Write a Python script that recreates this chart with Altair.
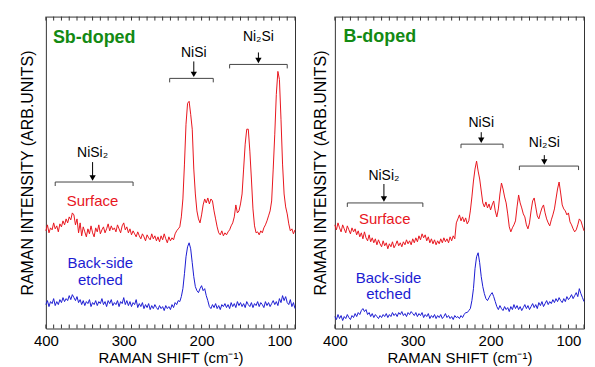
import altair as alt
import pandas as pd

# ---- data (intensity in arbitrary units, sampled every 2 cm^-1 from 400 down to 80) ----
sb_surface = [
    98, 104, 96, 101, 99, 106, 100, 103, 97, 105,
    102, 108, 104, 110, 106, 112, 109, 116, 114, 104,
    110, 96, 106, 93, 102, 97, 92, 100, 95, 103,
    96, 92, 101, 97, 104, 95, 99, 102, 96, 100,
    105, 98, 103, 99, 101, 97, 104, 100, 96, 103,
    106, 99, 102, 96, 100, 94, 98, 95, 92, 97,
    93, 90, 95, 92, 88, 94, 91, 89, 95, 90,
    93, 88, 92, 87, 93, 89, 95, 90, 86, 92,
    88, 91, 89, 95, 98, 100, 102, 112, 130, 165,
    205, 226, 228, 215, 200, 160, 135, 118, 110, 106,
    114, 124, 130, 126, 131, 125, 130, 128, 118, 110,
    102, 96, 94, 98, 93, 96, 94, 97, 99, 103,
    106, 112, 124, 116, 118, 125, 135, 160, 185, 200,
    200, 178, 150, 120, 103, 96, 97, 94, 98, 96,
    101, 104, 108, 113, 118, 128, 160, 195, 235, 258,
    250, 210, 165, 135, 122, 115, 105, 98, 100, 95,
    99,
]
sb_back = [
    24, 28, 22, 27, 25, 30, 23, 27, 24, 29,
    26, 31, 27, 30, 28, 33, 29, 34, 31, 28,
    32, 26, 29, 24, 28, 23, 27, 25, 29, 22,
    26, 24, 28, 23, 27, 25, 30, 24, 27, 22,
    28, 25, 29, 23, 26, 24, 28, 22, 27, 25,
    31, 24, 28, 23, 27, 22, 26, 24, 29, 21,
    25, 22, 26, 20, 24, 21, 25, 19, 23, 20,
    24, 21, 19, 23, 20, 22, 18, 23, 20, 22,
    19, 24, 21, 26, 24, 28, 27, 32, 40, 55,
    72, 82, 86, 80, 66, 52, 42, 38, 36, 40,
    43, 38, 40, 33, 28, 22, 20, 24, 21, 25,
    20, 23, 19, 24, 22, 25, 21, 24, 20, 26,
    22, 25, 21, 27, 23, 26, 22, 25, 21, 27,
    24, 22, 26, 21, 25, 23, 27, 22, 26, 24,
    21, 27, 23, 26, 22, 25, 28, 24, 27, 23,
    30, 26, 33, 28, 32, 26, 24, 29, 22, 26,
    20,
]
b_surface = [
    104, 99, 106, 101, 97, 104, 100, 96, 103, 99,
    95, 101, 97, 100, 94, 98, 92, 96, 90, 97,
    91, 88, 94, 87, 91, 86, 90, 84, 89, 85,
    82, 88, 83, 86, 80, 85, 82, 87, 81, 84,
    88, 83, 86, 82, 87, 84, 89, 85, 88, 84,
    90, 86, 91, 87, 93, 89, 95, 91, 94, 88,
    92, 86, 90, 85, 89, 84, 88, 85, 90, 86,
    91, 87, 90, 86, 92, 88, 93, 90, 106, 110,
    114, 108, 112, 107, 111, 105, 108, 118, 132, 148,
    160, 168, 158, 150, 138, 126, 122, 127, 121, 125,
    119, 124, 128, 118, 112, 120, 135, 146, 140, 132,
    126, 115, 102, 97, 101, 104, 108, 122, 134, 126,
    121, 115, 112, 104, 100, 106, 118, 128, 131, 122,
    113, 110, 116, 121, 124, 116, 110, 106, 103, 109,
    114, 120, 130, 140, 147, 136, 124, 120, 118, 114,
    116, 107, 104, 100, 97, 99, 104, 110, 108, 103,
    98,
]
b_back = [
    12, 9, 14, 10, 13, 8, 12, 10, 14, 11,
    9, 13, 11, 15, 12, 16, 14, 18, 20, 17,
    19, 14, 16, 12, 15, 11, 14, 12, 10, 13,
    11, 14, 12, 15, 11, 14, 12, 16, 13, 15,
    12, 16, 14, 17, 13, 15, 12, 16, 14, 17,
    15, 13, 16, 12, 15, 13, 16, 11, 14, 12,
    15, 10, 13, 11, 14, 10, 13, 11, 14, 10,
    12, 15, 11, 13, 10, 12, 9, 13, 11, 12,
    10, 13, 11, 14, 16, 16, 18, 20, 28, 40,
    60, 72, 76, 66, 52, 42, 35, 30, 28, 31,
    34, 36, 32, 27, 22, 19, 23, 20, 18, 22,
    19, 21, 17, 22, 19, 24, 20, 23, 19, 22,
    18, 21, 24, 20, 23, 19, 22, 25, 21, 24,
    20, 26, 23, 27, 22, 25, 28, 24, 27, 25,
    29, 26, 30, 27, 31, 28, 26, 30, 27, 32,
    29, 31, 34, 30, 33, 36, 32, 40, 35, 31,
    27,
]

tick_labels = [400, 300, 200, 100]
minor_ticks = list(range(80, 401, 10))

# phase annotations: label, arrow x, text y, arrow top, bracket left/right, bracket level
sb_phases = pd.DataFrame({
    "label": ["NiSi\u2082", "NiSi", "Ni\u2082Si"],
    "x": [340, 210, 127],
    "ty": [176, 276, 293],
    "atop": [167, 268, 277],
    "left": [388, 241, 164],
    "right": [288, 185, 90],
    "level": [147, 251, 265],
})
b_phases = pd.DataFrame({
    "label": ["NiSi\u2082", "NiSi", "Ni\u2082Si"],
    "x": [337, 212, 131],
    "ty": [153, 206, 186],
    "atop": [145, 197, 174],
    "left": [384, 238, 163],
    "right": [287, 184, 87],
    "level": [126, 185, 163],
})
sb_labels = pd.DataFrame({
    "text": ["Surface", "Back-side", "etched"],
    "x": [340, 330, 330],
    "y": [128, 66, 49],
    "series": ["Surface", "Back-side etched", "Back-side etched"],
})
b_labels = pd.DataFrame({
    "text": ["Surface", "Back-side", "etched"],
    "x": [336, 331, 331],
    "y": [110, 51, 35],
    "series": ["Surface", "Back-side etched", "Back-side etched"],
})

RED = "#e8161e"
BLUE = "#1c1cd2"
GREEN = "#138a13"
FONT = "Liberation Sans"

series_scale = alt.Scale(domain=["Surface", "Back-side etched"], range=[RED, BLUE])


def spectra_frame(surface, back):
    rows = []
    for name, vals in (("Surface", surface), ("Back-side etched", back)):
        for i, v in enumerate(vals):
            rows.append({"shift": 400 - 2 * i, "intensity": v, "series": name})
    return pd.DataFrame(rows)


def panel(surface, back, phases, labels, title_txt, title_x, title_y, ypad):
    xs = alt.Scale(domain=[80, 400], reverse=True, nice=False, zero=False)
    ys = alt.Scale(domain=[0, 313], nice=False, zero=False)
    xa = alt.Axis(
        values=tick_labels, format="d", title="RAMAN SHIFT (cm\u207b\u00b9)",
        ticks=False, domain=False, grid=False, labelFlush=False,
        labelFontSize=15, titleFontSize=15, labelPadding=5, titlePadding=2,
        titleFontWeight="normal", labelColor="black", titleColor="black",
        labelFont=FONT, titleFont=FONT)
    ya = alt.Axis(
        title="RAMAN INTENSITY (ARB.UNITS)", labels=False, ticks=False,
        domain=False, grid=False, titleFontSize=16, titlePadding=ypad,
        titleFontWeight="normal", titleColor="black", titleFont=FONT)

    def X(f):
        return alt.X(f, scale=xs, axis=xa)

    def Y(f):
        return alt.Y(f, scale=ys, axis=ya)

    lines = alt.Chart(spectra_frame(surface, back)).mark_line(strokeWidth=1).encode(
        x=X("shift:Q"), y=Y("intensity:Q"),
        color=alt.Color("series:N", scale=series_scale, legend=None),
        detail="series:N",
    )

    tdf = pd.DataFrame({"t": minor_ticks})
    ticks_bottom = alt.Chart(tdf).mark_rule(color="#333", strokeWidth=1).encode(
        x=X("t:Q"), y=alt.value(313), y2=alt.value(309))
    ticks_top = alt.Chart(tdf).mark_rule(color="#333", strokeWidth=1).encode(
        x=X("t:Q"), y=alt.value(0), y2=alt.value(4))

    pbase = alt.Chart(phases)
    bracket = pbase.mark_rule(color="#444", strokeWidth=1).encode(
        x=X("left:Q"), x2="right:Q", y=Y("level:Q"))
    ends = pbase.transform_fold(["left", "right"], as_=["side", "ex"]).transform_calculate(
        ybot="datum.level - 4").mark_rule(color="#444", strokeWidth=1).encode(
        x=X("ex:Q"), y=Y("level:Q"), y2="ybot:Q")
    shaft = pbase.transform_calculate(tip="datum.level + 4").mark_rule(
        color="black", strokeWidth=1).encode(
        x=X("x:Q"), y=Y("atop:Q"), y2="tip:Q")
    head = pbase.transform_calculate(hy="datum.level + 4").mark_point(
        shape="triangle-down", filled=True, color="black", size=40, opacity=1).encode(
        x=X("x:Q"), y=Y("hy:Q"))
    ptext = pbase.mark_text(fontSize=14, font=FONT, color="black", baseline="middle").encode(
        x=X("x:Q"), y=Y("ty:Q"), text="label:N")

    stext = alt.Chart(labels).mark_text(fontSize=15, font=FONT, baseline="middle").encode(
        x=X("x:Q"), y=Y("y:Q"),
        text="text:N", color=alt.Color("series:N", scale=series_scale, legend=None))

    ttl = alt.Chart(pd.DataFrame({"t": [title_txt], "x": [title_x], "y": [title_y]})).mark_text(
        fontSize=18, font=FONT, fontWeight="bold", color=GREEN, align="left",
        baseline="middle").encode(x=X("x:Q"), y=Y("y:Q"), text="t:N")

    return alt.layer(lines, ticks_bottom, ticks_top, bracket, ends, shaft, head, ptext,
                     stext, ttl).properties(width=250, height=313)


p1 = panel(sb_surface, sb_back, sb_phases, sb_labels, "Sb-doped", 391, 291, 10)
p2 = panel(b_surface, b_back, b_phases, b_labels, "B-doped", 389, 293, 6)

chart = alt.hconcat(p1, p2, spacing=14).properties(
    padding={"left": 11, "top": 7, "right": 0, "bottom": 0}
).configure(font=FONT).configure_view(stroke="#333", strokeWidth=1)

chart.save("out.html", embed_options={"renderer": "svg", "actions": False})
